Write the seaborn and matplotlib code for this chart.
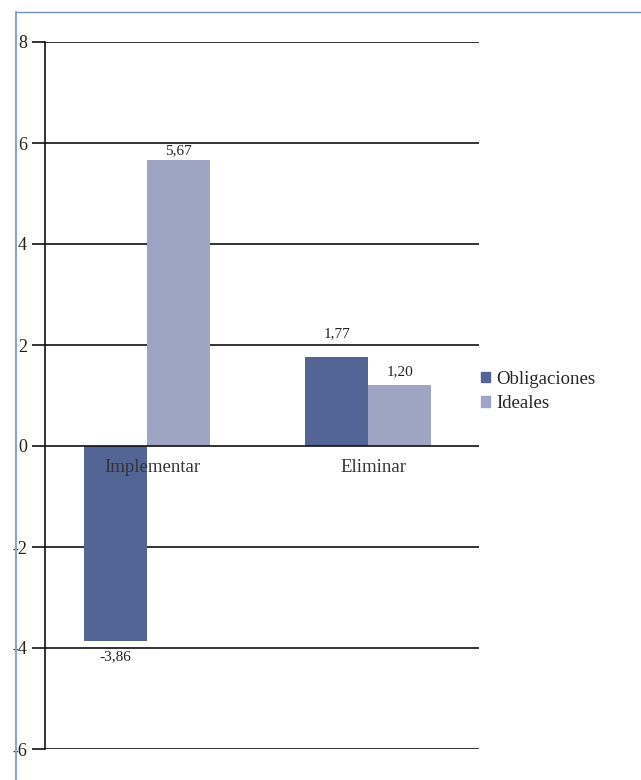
import pandas as pd
import seaborn as sns
import matplotlib.pyplot as plt
from matplotlib.lines import Line2D

# data
categories = ["Implementar", "Eliminar"]
series = ["Obligaciones", "Ideales"]
obligaciones = [-3.86, 1.77]
ideales = [5.67, 1.20]
colors = ["#526594", "#9ea4c4"]

df = pd.DataFrame({
    "Acción": categories * 2,
    "Serie": [series[0]] * 2 + [series[1]] * 2,
    "Valor": obligaciones + ideales,
})

sns.set_style("white")
plt.rcParams["font.family"] = ["Liberation Serif", "DejaVu Serif"]

fig = plt.figure(figsize=(6.41, 7.80), dpi=100)
ax = fig.add_axes([45 / 641, 31 / 780, 434 / 641, 707 / 780])

sns.barplot(data=df, x="Acción", y="Valor", hue="Serie", palette=colors,
            width=0.57, gap=0, saturation=1, linewidth=0, ax=ax, zorder=3,
            legend=False)

ax.set_ylim(-6, 8)
ax.set_xlim(-0.46, 1.5)
ax.set_yticks(range(-6, 9, 2))
ax.set_yticklabels([str(v) for v in range(-6, 9, 2)], fontsize=13, color="#222222")
ax.set_xlabel("")
ax.set_ylabel("")
ax.set_xticks([])
for y in range(-6, 9, 2):
    ax.axhline(y, color="#111111", lw=1.2, zorder=4 if y == 0 else 1)
for s in ["top", "right", "bottom"]:
    ax.spines[s].set_visible(False)
ax.spines["left"].set_color("#111111")
ax.spines["left"].set_linewidth(1.2)
ax.tick_params(axis="y", direction="out", length=9.5, width=1.2, color="#111111",
               pad=3.5, left=True)

# category labels on the zero line
for i, c in enumerate(categories):
    ax.text(i + 0.025, -0.42, c, ha="center", va="center", fontsize=13.5,
            color="#333333", zorder=5)

# value labels (offset in points so labels clear the gridlines)
label_lift = [[7, 12], [2, 5]]  # [series][category]
for si, cont in enumerate(ax.containers):
    for ci, bar in enumerate(cont):
        h = bar.get_height()
        xc = bar.get_x() + bar.get_width() / 2
        txt = f"{h:.2f}".replace(".", ",")
        if h >= 0:
            ax.annotate(txt, (xc, h), xytext=(0, label_lift[si][ci]),
                        textcoords="offset points", ha="center", va="bottom",
                        fontsize=11, color="#222222")
        else:
            ax.annotate(txt, (xc, h), xytext=(0, -label_lift[si][ci]),
                        textcoords="offset points", ha="center", va="top",
                        fontsize=11, color="#222222")

handles = [plt.Rectangle((0, 0), 1, 1, color=c) for c in colors]
ax.legend(handles, series, loc="center left", bbox_to_anchor=(1.0, 0.506),
          frameon=False, fontsize=13.5, handlelength=0.5, handleheight=0.5,
          handletextpad=0.3, labelspacing=0.4, borderaxespad=0.1,
          borderpad=0.0)

# blue frame lines
fig.add_artist(Line2D([15.5 / 641, 15.5 / 641], [0, 1 - 12 / 780],
                      transform=fig.transFigure, color="#8ba5cc", lw=1.5))
fig.add_artist(Line2D([15.5 / 641, 1], [1 - 12 / 780, 1 - 12 / 780],
                      transform=fig.transFigure, color="#6f8fc0", lw=1))

fig.savefig("out.png", dpi=100)
